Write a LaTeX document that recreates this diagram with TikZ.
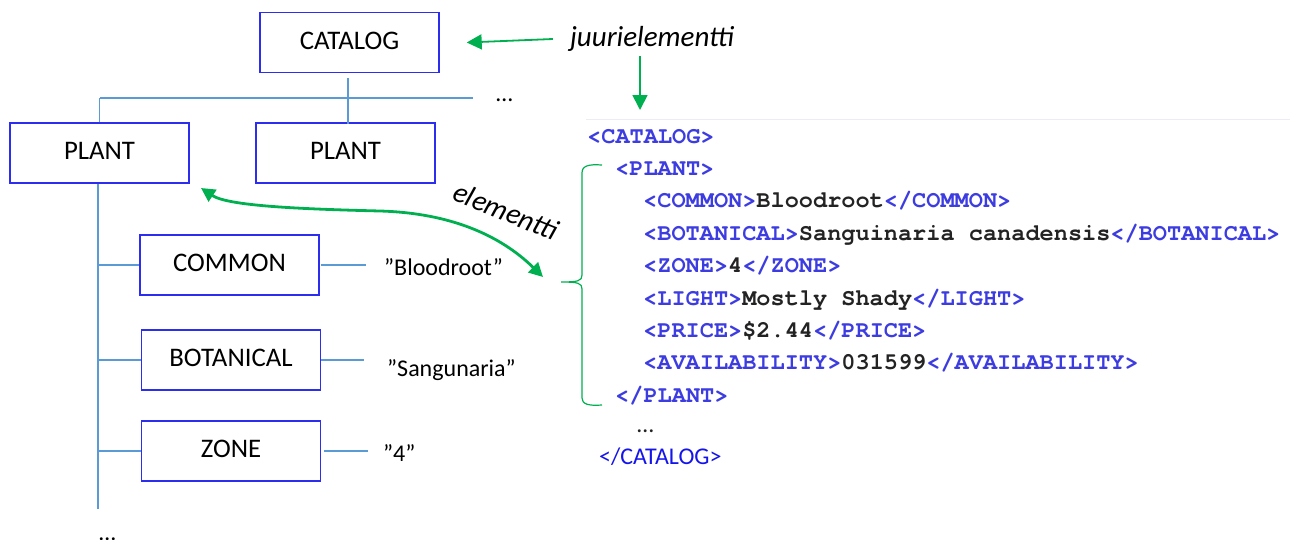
\documentclass[tikz,border=0pt]{standalone}
\usepackage{fontspec}
\setmainfont{Carlito}
\newfontfamily\xmlfont{texgyrecursor-bold.otf}
\usetikzlibrary{arrows.meta}

\definecolor{boxblue}{RGB}{45,45,240}
\definecolor{treeblue}{RGB}{91,155,213}
\definecolor{markgreen}{RGB}{0,176,80}
\definecolor{xmltag}{RGB}{60,60,225}
\definecolor{xmltext}{RGB}{35,35,35}
\definecolor{closetag}{RGB}{20,20,235}
\definecolor{shotedge}{RGB}{236,236,246}

\newcommand\xtag[1]{\textcolor{xmltag}{#1}}

\tikzset{
  elbox/.style={draw=boxblue, line width=1.4pt, minimum width=179pt,
    minimum height=60pt, inner sep=0pt, text height=17pt, text depth=4pt,
    font=\fontsize{26.8}{30}\selectfont},
  treeline/.style={draw=treeblue, line width=1.3pt},
  valtext/.style={inner sep=0pt, anchor=base west, font=\fontsize{24}{28}\selectfont},
  note/.style={inner sep=0pt, font=\itshape\fontsize{29}{33}\selectfont},
  pointer/.style={draw=markgreen, line width=1.8pt,
    -{Triangle[length=15pt,width=15pt]}},
  twoway/.style={draw=markgreen, line width=2.8pt,
    {Triangle[length=14pt,width=14pt]}-{Triangle[length=14pt,width=14pt]}},
  bracket/.style={draw=markgreen, line width=1.2pt},
  xmlline/.style={inner sep=0pt, anchor=base west, text=xmltext,
    font=\xmlfont\fontsize{23.6}{28}\selectfont},
}

\begin{document}
\begin{tikzpicture}[x=1pt, y=-1pt]
\useasboundingbox (0,0) rectangle (1290,539);

% ---- tree of elements ----
\node[elbox] (cat)    at (349.5,42.5) {CATALOG};
\node[elbox] (plantL) at (99.5,153)   {PLANT};
\node[elbox] (plantR) at (345.5,153)  {PLANT};
\node[elbox] (common) at (229.5,265)  {COMMON};
\node[elbox] (botan)  at (231,360)    {BOTANICAL};
\node[elbox] (zone)   at (231,451)    {ZONE};

\coordinate (busW) at (100,98);
\coordinate (busE) at (473,98);
\coordinate (spine) at (98,509);

\node[valtext] (moreplants) at (496,101) {…};
\node[valtext] (morechildren) at (99,540.5) {…};

\path[treeline] (busW) -- (busE);
\path[treeline] (plantL.north) -- (plantL.north |- busW);
\path[treeline] ([yshift=-5pt]cat.south -| 348,0) -- ([yshift=-2pt]plantR.north -| 348,0);
\path[treeline] (plantL.south -| spine) -- (spine);
\path[treeline] (common.west -| spine) -- (common.west);
\path[treeline] (botan.west -| spine) -- (botan.west);
\path[treeline] (zone.west -| spine) -- (zone.west);

% ---- text values ----
\node[valtext] (vcommon) at (384,275) {”Bloodroot”};
\node[valtext] (vbotan)  at (387,376) {”Sangunaria”};
\node[valtext] (vzone)   at (383,461) {”4”};

\path[treeline] ([xshift=1pt]common.east) -- ([xshift=-18pt]common.east -| vcommon.west);
\path[treeline] (botan.east) -- ([xshift=-23pt]botan.east -| vbotan.west);
\path[treeline] ([xshift=3pt]zone.east) -- ([xshift=-15pt]zone.east -| vzone.west);

% ---- XML listing ----
\draw[shotedge, line width=1pt] (586,119) -- (1290,119);
\node[xmlline] (x0) at (587,143)   {\xtag{<CATALOG>}};
\node[xmlline] (x1) at (615,175.4) {\xtag{<PLANT>}};
\node[xmlline] (x2) at (643,207.8) {\xtag{<COMMON>}Bloodroot\xtag{</COMMON>}};
\node[xmlline] (x3) at (643,240.2) {\xtag{<BOTANICAL>}Sanguinaria canadensis\xtag{</BOTANICAL>}};
\node[xmlline] (x4) at (643,272.6) {\xtag{<ZONE>}4\xtag{</ZONE>}};
\node[xmlline] (x5) at (643,305)   {\xtag{<LIGHT>}Mostly Shady\xtag{</LIGHT>}};
\node[xmlline] (x6) at (643,337.4) {\xtag{<PRICE>}\$2.44\xtag{</PRICE>}};
\node[xmlline] (x7) at (643,369.8) {\xtag{<AVAILABILITY>}031599\xtag{</AVAILABILITY>}};
\node[xmlline] (x8) at (615,402.2) {\xtag{</PLANT>}};
\node[valtext, text=xmltext] (xdots) at (637,432) {…};
\node[valtext, text=closetag] (xclose) at (599,464) {</CATALOG>};

% ---- annotations ----
\node[note] (root) at (652,39) {juurielementti};
\coordinate (rootmark) at (640,110);
\path[pointer] ([xshift=-17pt]root.west) -- ([xshift=27pt]cat.east);
\path[pointer] ([yshift=-4pt]root.south -| rootmark) -- (rootmark);

% curly bracket around the PLANT element
\coordinate (bracetip) at (561,282);
\path[bracket] (602,165) .. controls (588,164) and (582,166) .. (582,173)
  -- (582,275) .. controls (582,281) and (578,282) .. (bracetip)
  .. controls (578,282) and (582,283) .. (582,289)
  -- (582,398) .. controls (582,404) and (588,406) .. (602,405);

\coordinate (treeend) at (201,188);
\coordinate (xmlend) at (543,277);
\path[twoway] (treeend) .. controls (228,206) and (300,209) .. (380,211)
  .. controls (450,213) and (500,235) .. (xmlend);
\node[note, rotate=-22] (elem) at (506,211) {elementti};

\end{tikzpicture}
\end{document}
